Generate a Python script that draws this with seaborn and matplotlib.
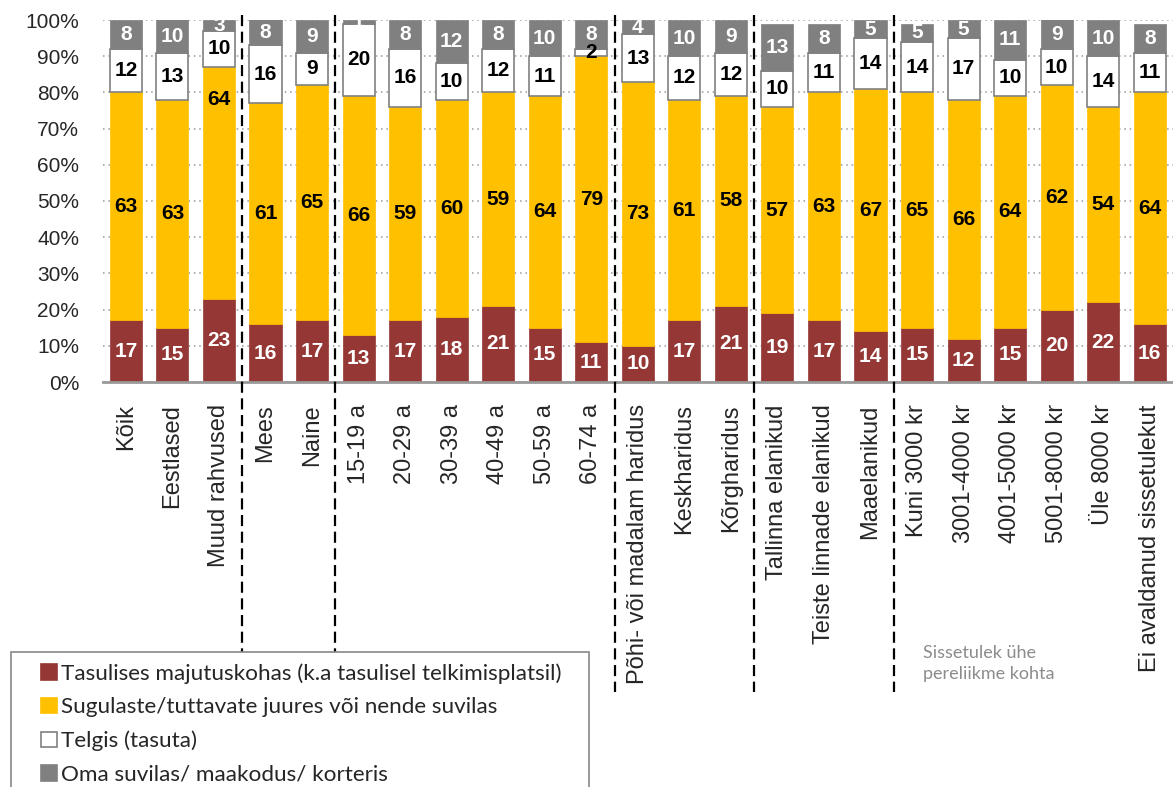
import numpy as np
import pandas as pd
import seaborn as sns
import matplotlib.pyplot as plt
from matplotlib.patches import Patch, Rectangle

# categories (x axis)
groups = ["Kõik", "Eestlased", "Muud rahvused", "Mees", "Naine",
          "15-19 a", "20-29 a", "30-39 a", "40-49 a", "50-59 a", "60-74 a",
          "Põhi- või madalam haridus", "Keskharidus", "Kõrgharidus",
          "Tallinna elanikud", "Teiste linnade elanikud", "Maaelanikud",
          "Kuni 3000 kr", "3001-4000 kr", "4001-5000 kr", "5001-8000 kr",
          "Üle 8000 kr", "Ei avaldanud sissetulekut"]

# series values (%)
paid = [17, 15, 23, 16, 17, 13, 17, 18, 21, 15, 11, 10, 17, 21, 19, 17, 14, 15, 12, 15, 20, 22, 16]
relatives = [63, 63, 64, 61, 65, 66, 59, 60, 59, 64, 79, 73, 61, 58, 57, 63, 67, 65, 66, 64, 62, 54, 64]
tent = [12, 13, 10, 16, 9, 20, 16, 10, 12, 11, 2, 13, 12, 12, 10, 11, 14, 14, 17, 10, 10, 14, 11]
own = [8, 10, 3, 8, 9, 1, 8, 12, 8, 10, 8, 4, 10, 9, 13, 8, 5, 5, 5, 11, 9, 10, 8]

series_names = ["Tasulises majutuskohas (k.a tasulisel telkimisplatsil)",
                "Sugulaste/tuttavate juures või nende suvilas",
                "Telgis (tasuta)",
                "Oma suvilas/ maakodus/ korteris"]

# group separators sit after these category indexes
separators_after = [2, 4, 10, 13, 16]

colors = ["#953735", "#FFC000", "#FFFFFF", "#808080"]
edges = ["#953735", "#FFC000", "#808080", "#808080"]
text_colors = ["white", "black", "black", "white"]

sns.set_style("white")
plt.rcParams["font.family"] = ["Liberation Sans", "DejaVu Sans"]

fig = plt.figure(figsize=(11.73, 7.87), dpi=100)
ax = fig.add_axes([0.0875, 1 - 382 / 787, 0.9125, 362 / 787])

df = pd.DataFrame({"group": groups, "s0": paid, "s1": relatives, "s2": tent, "s3": own})
bottom = np.zeros(len(groups))
for i, col in enumerate(["s0", "s1", "s2", "s3"]):
    sns.barplot(data=df, x="group", y=col, order=groups, color=colors[i],
                saturation=1, width=0.69, bottom=bottom.copy(), edgecolor=edges[i],
                linewidth=1.2 if i == 2 else 0.5, ax=ax, zorder=2)
    bottom += df[col].to_numpy()

label_sets = []
for i, cont in enumerate(ax.containers):
    vals = df[f"s{i}"].tolist()
    texts = ax.bar_label(cont, labels=[str(v) for v in vals], label_type="center",
                         color=text_colors[i], fontsize=15, fontweight="bold")
    for t in texts:
        t.set_clip_box(ax.bbox)
        t.set_clip_on(True)
    label_sets.append(texts)

# in the original the "Muud rahvused" yellow label sits near the top of its segment
# (center labels are anchored in bar-relative coordinates)
t = label_sets[1][2]
t.xy = (0.5, (78 - paid[2]) / relatives[2])

ax.set_xlim(-0.5, len(groups) - 0.5)
ax.set_ylim(0, 100)
ax.set_yticks(np.arange(0, 101, 10))
ax.set_yticklabels([f"{v}%" for v in range(0, 101, 10)], fontsize=15)
ax.set_xticks(range(len(groups)))
ax.set_xticklabels(groups, rotation=90, fontsize=17)
ax.tick_params(axis="x", length=0, pad=16)
ax.tick_params(axis="y", length=0, pad=17)
ax.set_xlabel("")
ax.set_ylabel("")

ax.yaxis.grid(True, linestyle=(0, (1, 2.5)), color="#999999", linewidth=1.1)
ax.set_axisbelow(True)
for s in ["left", "top", "right"]:
    ax.spines[s].set_visible(False)
ax.spines["bottom"].set_color("#999999")
ax.spines["bottom"].set_linewidth(2)

# dashed separators between groups
tr = ax.get_xaxis_transform()
for k, idx in enumerate(separators_after):
    y_low = -0.746 if k < 2 else -0.856
    ax.plot([idx + 0.5, idx + 0.5], [1.014, y_low], transform=tr, clip_on=False,
            color="black", linewidth=1.6, linestyle=(0, (5, 2.5)), zorder=5)

# legend: frame drawn separately so it can run off the bottom edge
fig.patches.append(Rectangle((11 / 1173, -0.05), 578 / 1173, 0.05 + 1 - 652 / 787,
                             transform=fig.transFigure, fill=False,
                             edgecolor="#888888", linewidth=1.2))
handles = [Patch(facecolor=colors[i], edgecolor=edges[i] if i == 2 else colors[i],
                 linewidth=1.2) for i in range(4)]
fig.legend(handles, series_names, loc="center left",
           bbox_to_anchor=(41 / 1173, 1 - 724 / 787), frameon=False,
           borderaxespad=0, borderpad=0,
           handlelength=0.7, handleheight=0.7, handletextpad=0.2,
           labelspacing=0.6, prop={"family": "Lato", "size": 16.2})

fig.text(923 / 1173, 1 - 663.5 / 787, "Sissetulek ühe\npereliikme kohta",
         ha="left", va="center", color="#8c8c8c", fontsize=13,
         family="Lato", linespacing=1.35)

fig.savefig("out.png", dpi=100)
